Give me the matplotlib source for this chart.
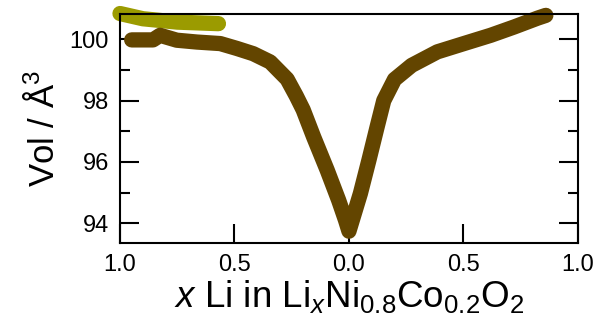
import numpy as np
import matplotlib
matplotlib.use("Agg")
import matplotlib.pyplot as plt
from matplotlib.ticker import MultipleLocator, FixedLocator

# fonts: helvetica-like
plt.rcParams['font.family'] = ['Liberation Sans', 'DejaVu Sans']
plt.rcParams['mathtext.fontset'] = 'custom'
plt.rcParams['mathtext.rm'] = 'Liberation Sans'
plt.rcParams['mathtext.it'] = 'Liberation Sans:italic'

# x runs charge (1 -> 0) then discharge (0 -> 1), stored as position 0..2
charge_pos = [0.051, 0.144, 0.175, 0.248, 0.336, 0.438, 0.511, 0.582, 0.656, 0.73,
              0.77, 0.80, 0.846, 0.905, 0.955, 0.985, 1.0]
charge_vol = [99.98, 99.98, 100.13, 99.97, 99.91, 99.86, 99.70, 99.53, 99.26, 98.70,
              98.15, 97.70, 96.81, 95.73, 94.75, 94.10, 93.74]

discharge_pos = [1.0, 1.050, 1.087, 1.123, 1.152, 1.199, 1.274, 1.386, 1.502, 1.619,
                 1.721, 1.824, 1.860]
discharge_vol = [93.74, 94.97, 96.05, 97.14, 98.0, 98.69, 99.15, 99.59, 99.86, 100.13,
                 100.40, 100.69, 100.78]

# second (lighter) series at top left
olive_pos = [0.0, 0.10, 0.25, 0.43]
olive_vol = [100.84, 100.67, 100.56, 100.51]

xtick_pos = [0, 0.5, 1, 1.5, 2]
xtick_labels = ['1.0', '0.5', '0.0', '0.5', '1.0']

brown = '#634500'
olive = '#9b9b00'

fig = plt.figure(figsize=(5.97, 3.29), dpi=100)
ax = fig.add_axes([0.201, 0.261, 0.767, 0.696])

line_kw = dict(lw=11, solid_capstyle='round', solid_joinstyle='round', clip_on=False)
ax.plot(olive_pos, olive_vol, color=olive, **line_kw)
ax.plot(charge_pos + discharge_pos[1:], charge_vol + discharge_vol[1:], color=brown, **line_kw)

ax.set_xlim(0, 2)
ax.set_ylim(93.35, 100.82)

ax.xaxis.set_major_locator(FixedLocator(xtick_pos))
ax.set_xticklabels(xtick_labels)
ax.yaxis.set_major_locator(MultipleLocator(2))
ax.yaxis.set_minor_locator(MultipleLocator(1))

for s in ax.spines.values():
    s.set_linewidth(1.5)
ax.tick_params(which='both', direction='in', width=1.5, labelsize=17, top=False, right=True)
ax.tick_params(which='major', length=14, pad=8)
ax.tick_params(which='minor', length=7)

ax.set_ylabel('Vol / Å$^3$', fontsize=25, labelpad=6)
ax.set_xlabel('$x$ Li in Li$_x$Ni$_{0.8}$Co$_{0.2}$O$_2$', fontsize=26.5, labelpad=1)

fig.savefig('out.png', dpi=100)
